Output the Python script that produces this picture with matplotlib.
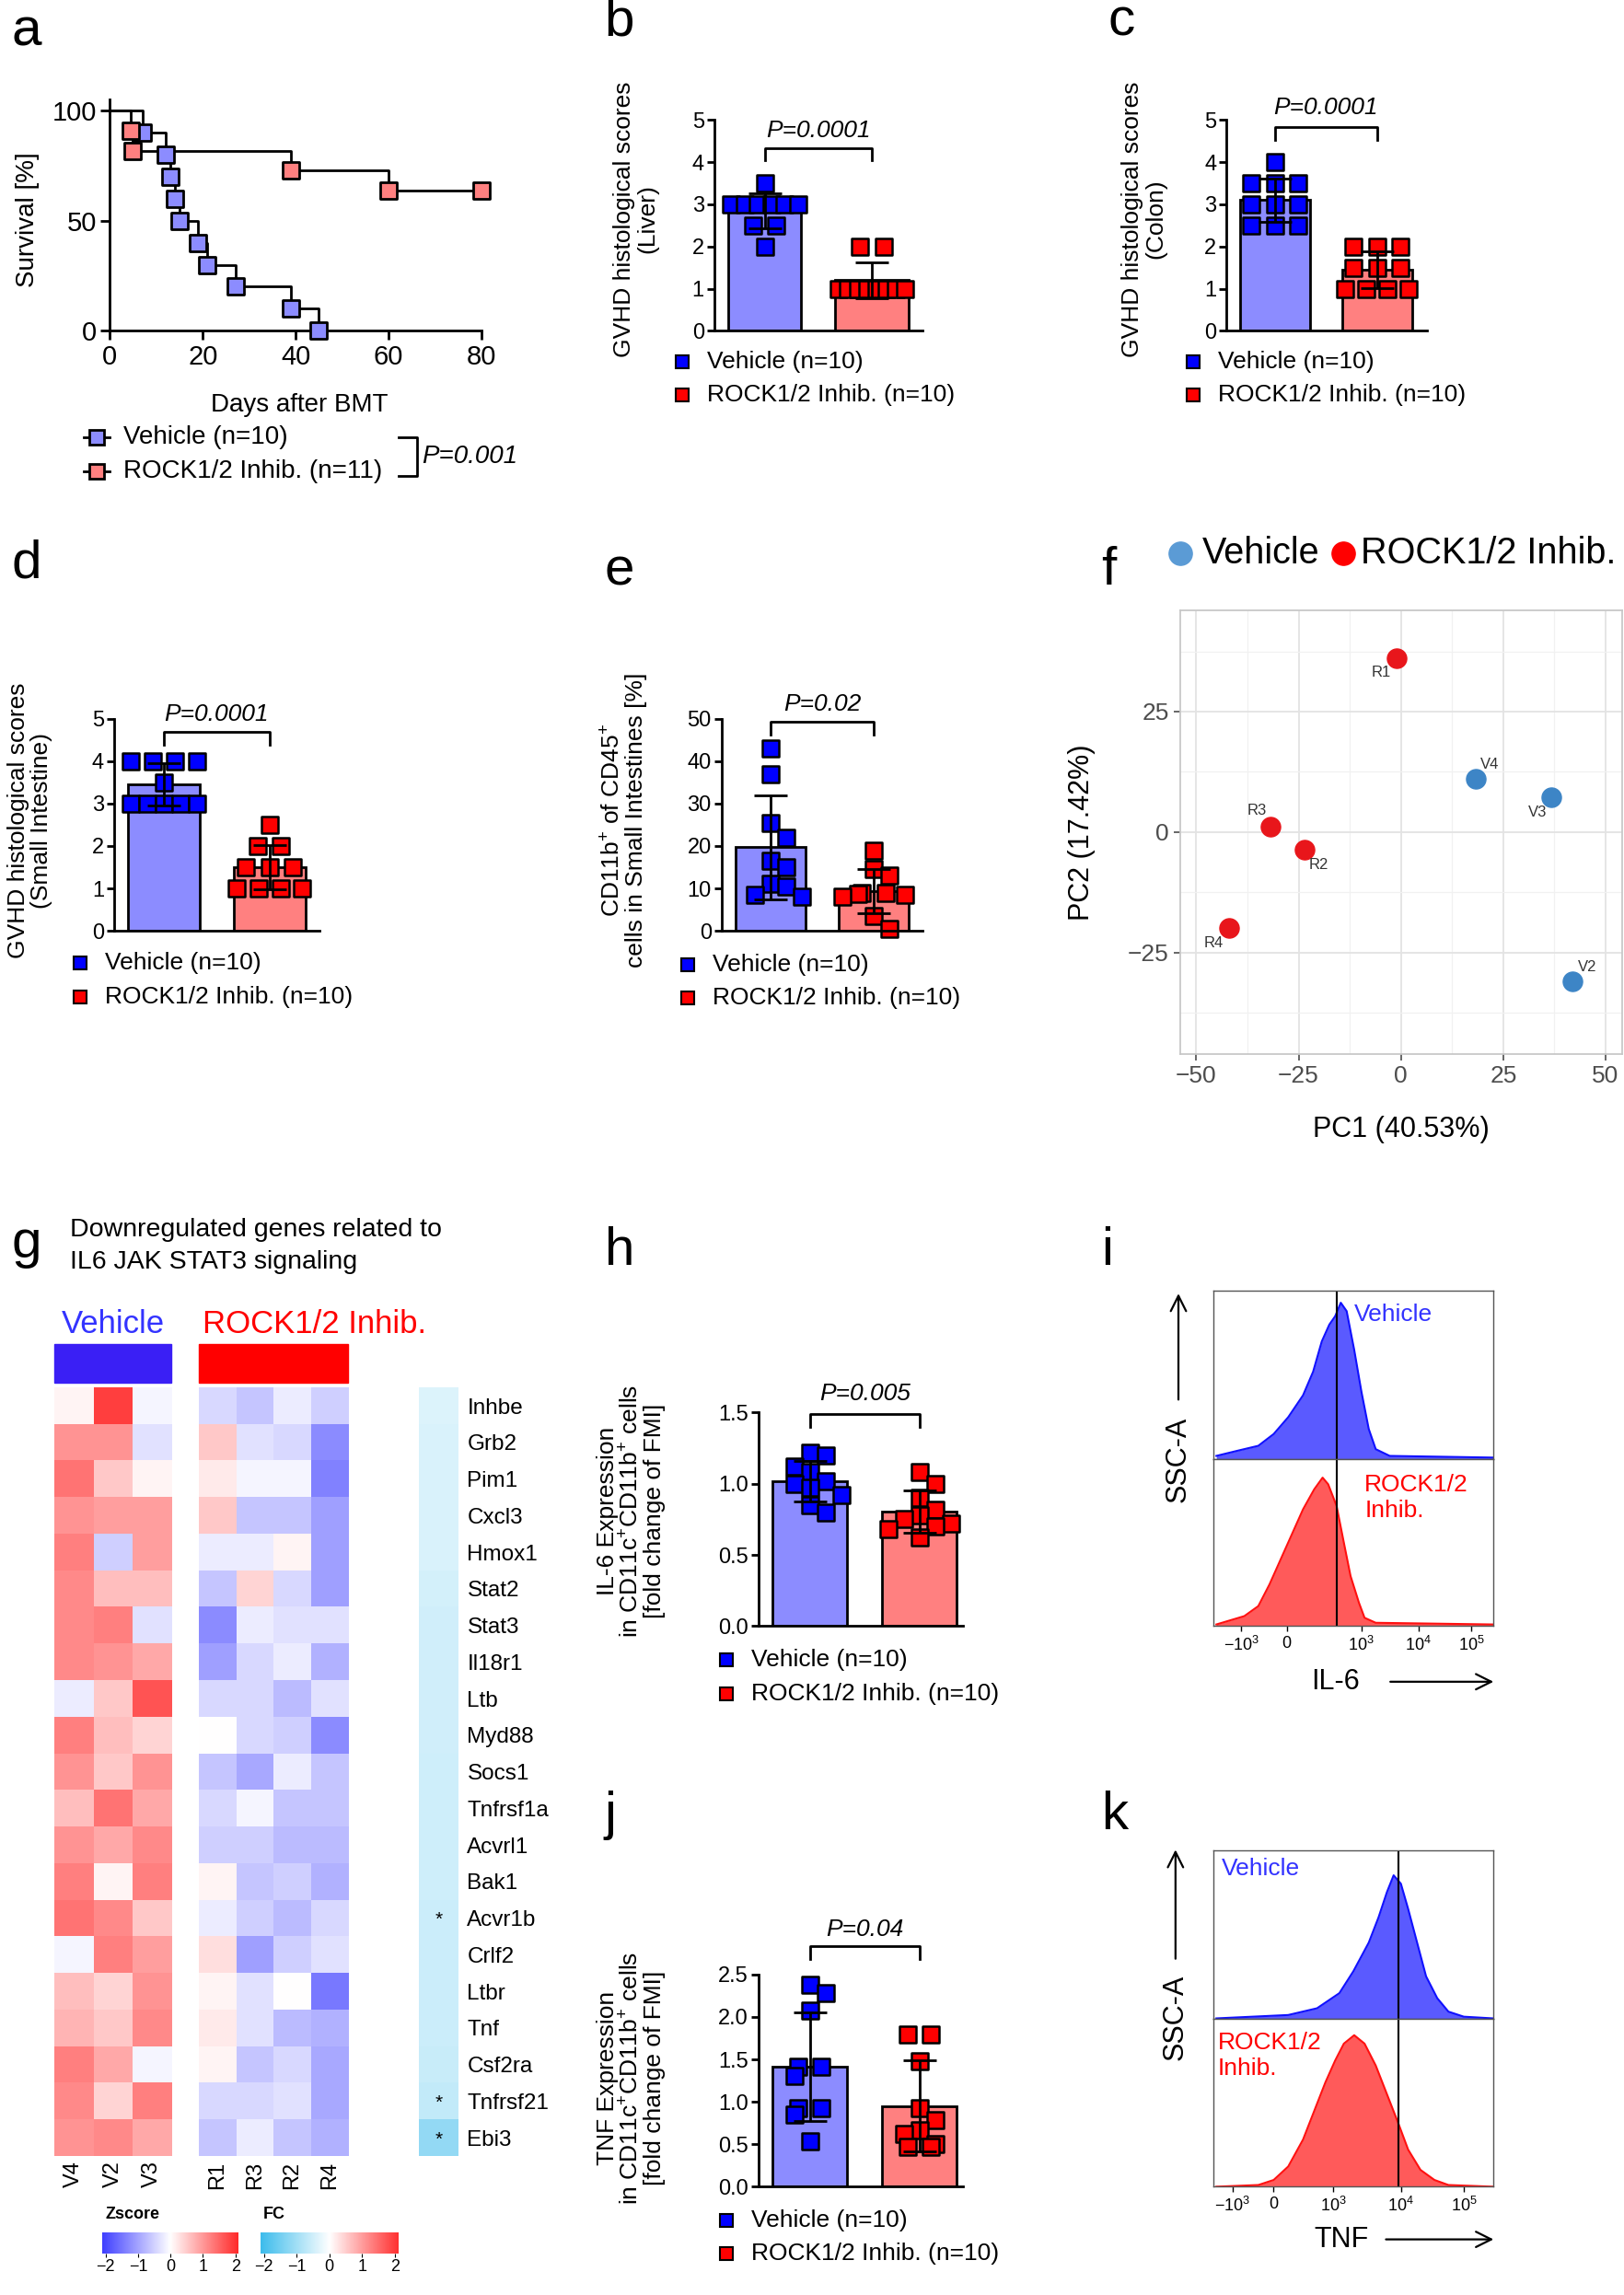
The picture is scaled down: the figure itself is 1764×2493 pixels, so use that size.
import numpy as np
import matplotlib
matplotlib.use('Agg')
import matplotlib.pyplot as plt
from matplotlib.colors import LinearSegmentedColormap

plt.rcParams['font.family'] = ['Liberation Sans', 'DejaVu Sans']
plt.rcParams['mathtext.fontset'] = 'custom'
plt.rcParams['mathtext.rm'] = 'Liberation Sans'
plt.rcParams['mathtext.it'] = 'Liberation Sans:italic'
plt.rcParams['axes.linewidth'] = 2

# ---------------- data ----------------
# a: survival
veh_surv_days = [0, 7, 12, 13, 14, 15, 19, 21, 27, 39, 45]
veh_surv_pct = [100, 90, 80, 70, 60, 50, 40, 30, 20, 10, 0]
rock_surv_days = [0, 4.5, 5, 39, 60, 80]
rock_surv_pct = [100, 90.9, 81.8, 72.7, 63.6, 63.6]

# b-e: histological scores / CD11b
liver_veh = [3.5, 3, 3, 3, 3, 3, 3, 2.5, 2.5, 2]
liver_rock = [2, 2, 1, 1, 1, 1, 1, 1, 1, 1]
colon_veh = [4, 3.5, 3.5, 3.5, 3, 3, 3, 2.5, 2.5, 2.5]
colon_rock = [2, 2, 2, 1.5, 1.5, 1.5, 1, 1, 1, 1]
si_veh = [4, 4, 4, 4, 3.5, 3, 3, 3, 3, 3]
si_rock = [2.5, 2, 2, 1.5, 1.5, 1.5, 1, 1, 1, 1]
cd11b_veh = [43, 37, 25.5, 22, 16.5, 15, 11, 10.5, 8.5, 8]
cd11b_rock = [19, 14.5, 13, 9, 9, 8.7, 8.4, 8, 3.5, 0.5]

# h, j: fold change of FMI
il6_veh = [1.22, 1.20, 1.12, 1.08, 1.02, 1.0, 0.97, 0.92, 0.85, 0.8]
il6_rock = [1.08, 1.0, 0.9, 0.82, 0.78, 0.75, 0.72, 0.70, 0.68, 0.62]
tnf_veh = [2.38, 2.28, 2.07, 1.41, 1.41, 1.31, 0.93, 0.93, 0.85, 0.53]
tnf_rock = [1.79, 1.79, 1.48, 0.93, 0.78, 0.67, 0.62, 0.5, 0.47, 0.47]

# f: PCA
pca_names = ['R1', 'R2', 'R3', 'R4', 'V2', 'V3', 'V4']
pc1 = [-1, -23.6, -31.8, -42, 41.8, 36.8, 18.2]
pc2 = [36, -3.7, 1.2, -19.8, -31, 7.3, 11]

# g: heatmap
genes = ['Inhbe', 'Grb2', 'Pim1', 'Cxcl3', 'Hmox1', 'Stat2', 'Stat3', 'Il18r1',
         'Ltb', 'Myd88', 'Socs1', 'Tnfrsf1a', 'Acvrl1', 'Bak1', 'Acvr1b',
         'Crlf2', 'Ltbr', 'Tnf', 'Csf2ra', 'Tnfrsf21', 'Ebi3']
veh_samples = ['V4', 'V2', 'V3']
rock_samples = ['R1', 'R3', 'R2', 'R4']
z_veh = [[0.1, 1.8, -0.1], [1.0, 1.0, -0.3], [1.3, 0.5, 0.1], [1.0, 0.9, 0.9],
         [1.2, -0.5, 0.9], [1.1, 0.6, 0.6], [1.1, 1.2, -0.3], [1.1, 1.0, 0.8],
         [-0.2, 0.5, 1.6], [1.2, 0.6, 0.4], [1.0, 0.5, 1.0], [0.6, 1.3, 0.8],
         [1.0, 0.8, 1.1], [1.2, 0.1, 1.2], [1.3, 1.1, 0.5], [-0.1, 1.2, 0.9],
         [0.6, 0.4, 1.0], [0.7, 0.5, 1.1], [1.2, 0.8, -0.1], [1.1, 0.4, 1.2],
         [1.0, 1.1, 0.8]]
z_rock = [[-0.4, -0.6, -0.2, -0.5], [0.5, -0.3, -0.4, -1.2], [0.2, -0.1, -0.1, -1.3],
          [0.5, -0.6, -0.6, -1.0], [-0.2, -0.2, 0.1, -1.0], [-0.6, 0.4, -0.4, -1.0],
          [-1.2, -0.2, -0.3, -0.3], [-1.0, -0.4, -0.2, -0.8], [-0.4, -0.4, -0.7, -0.3],
          [0.0, -0.4, -0.5, -1.2], [-0.6, -0.9, -0.2, -0.6], [-0.4, -0.1, -0.6, -0.6],
          [-0.5, -0.5, -0.7, -0.7], [0.1, -0.6, -0.5, -0.8], [-0.2, -0.5, -0.7, -0.4],
          [0.3, -1.0, -0.5, -0.3], [0.1, -0.3, 0.0, -1.4], [0.2, -0.3, -0.7, -0.8],
          [0.1, -0.6, -0.4, -0.9], [-0.4, -0.4, -0.3, -0.9], [-0.6, -0.2, -0.6, -0.8]]
fold_change = [-0.35, -0.38, -0.38, -0.38, -0.38, -0.45, -0.48, -0.48, -0.48, -0.48,
               -0.5, -0.5, -0.5, -0.5, -0.52, -0.52, -0.52, -0.52, -0.55, -0.62, -1.1]
significant = ['Acvr1b', 'Tnfrsf21', 'Ebi3']

# i, k: flow cytometry histograms (axis units 0-100, height as share of max)
il6_veh_x = [1, 8.4, 16, 21.5, 26.7, 32, 35.6, 38.7, 41.4, 43.5, 45.5, 47.6, 50.3, 52.9, 55.5, 58, 63, 100]
il6_veh_y = [0.02, 0.05, 0.08, 0.15, 0.25, 0.38, 0.52, 0.70, 0.80, 0.85, 0.93, 0.88, 0.65, 0.40, 0.18, 0.06, 0.02, 0.01]
il6_rock_x = [1, 3, 11, 16, 20, 24, 28, 32, 36, 39, 41, 44, 46.6, 49, 52, 54, 58, 100]
il6_rock_y = [0.01, 0.02, 0.06, 0.12, 0.25, 0.40, 0.55, 0.70, 0.82, 0.89, 0.85, 0.72, 0.50, 0.30, 0.14, 0.05, 0.02, 0.01]
tnf_veh_x = [1, 26.7, 37, 45, 50, 55.5, 59, 62, 64.4, 67, 69.6, 72.8, 76, 80, 84, 89.5, 100]
tnf_veh_y = [0.0, 0.02, 0.06, 0.15, 0.28, 0.45, 0.60, 0.75, 0.85, 0.80, 0.65, 0.45, 0.25, 0.12, 0.04, 0.01, 0.0]
tnf_rock_x = [1, 16, 21.5, 26.7, 32, 36, 40, 43.5, 46.6, 50.3, 54, 58, 62, 66, 69.6, 74, 79, 84, 100]
tnf_rock_y = [0.0, 0.01, 0.04, 0.12, 0.28, 0.45, 0.62, 0.75, 0.85, 0.90, 0.85, 0.72, 0.55, 0.38, 0.22, 0.10, 0.04, 0.01, 0.0]

VEH_BAR, ROCK_BAR = '#8c8cff', '#ff8080'
VEH_PT, ROCK_PT = '#0000ff', '#ff0000'
BAR_W = 0.68

FW, FH = 1765, 2493
fig = plt.figure(figsize=(FW / 100, FH / 100), dpi=100)


def axbox(x0, y0, x1, y1):
    return fig.add_axes([x0 / 1110, 1 - y1 / 1568, (x1 - x0) / 1110, (y1 - y0) / 1568])


def F(x, y):
    return (x / 1110, 1 - y / 1568)


def ftext(x, y, s, **kw):
    fig.text(*F(x, y), s, **kw)


def fline(xs, ys, **kw):
    pts = [F(x, y) for x, y in zip(xs, ys)]
    fig.add_artist(plt.Line2D([p[0] for p in pts], [p[1] for p in pts],
                              transform=fig.transFigure, **kw))


def swarm_x(ax, vals, center, ms_px=17):
    bb = ax.get_position()
    w_px, h_px = bb.width * FW, bb.height * FH
    x0, x1 = ax.get_xlim()
    y0, y1 = ax.get_ylim()
    bar_px = BAR_W / (x1 - x0) * w_px
    vals = np.asarray(vals, float)
    ypx = (vals - y0) / (y1 - y0) * h_px
    cands = [0] + [s * k * 0.5 for k in range(1, 30) for s in (1, -1)]
    offs = np.zeros(len(vals))
    placed = []
    for i in np.argsort(-ypx, kind='stable'):
        for c in cands:
            off = c * ms_px
            if all(abs(off - px) >= ms_px * 0.98 or abs(ypx[i] - py) >= ms_px * 0.98
                   for px, py in placed):
                break
        placed.append((off, ypx[i]))
        offs[i] = off
    for v in np.unique(vals):
        m = vals == v
        n = m.sum()
        if n > 1:
            span = min((n - 1) * 1.5 * ms_px, bar_px - 0.4 * ms_px)
            offs[m] = np.linspace(-span / 2, span / 2, n)
    return center + offs / w_px * (x1 - x0)


def bar_panel(ax, veh, rock, ylim, yticks, ylabel, lab_xy, ptxt, br_y, br_drop, txt_y,
              xlim=(-0.47, 1.47), tick_fmt='{:g}'):
    ax.set_xlim(*xlim)
    ax.set_ylim(*ylim)
    means = [np.mean(veh), np.mean(rock)]
    sds = [np.std(veh, ddof=1), np.std(rock, ddof=1)]
    ax.bar([0, 1], means, width=BAR_W, color=[VEH_BAR, ROCK_BAR], edgecolor='black',
           linewidth=2, zorder=1)
    for i, vals, col in [(0, veh, VEH_PT), (1, rock, ROCK_PT)]:
        ax.scatter(swarm_x(ax, vals, i), vals, marker='s', s=150, c=col,
                   edgecolors='black', linewidths=1.8, zorder=2, clip_on=False)
    ax.errorbar([0, 1], means, yerr=sds, fmt='none', ecolor='black', elinewidth=2,
                capsize=13, capthick=2, zorder=3)
    ax.plot([0, 0, 1, 1], [br_y - br_drop, br_y, br_y, br_y - br_drop], color='black',
            lw=2, clip_on=False)
    ax.text(0.5, txt_y, ptxt, style='italic', ha='center', va='center', fontsize=19)
    for s in ['top', 'right']:
        ax.spines[s].set_visible(False)
    ax.set_xticks([])
    ax.set_yticks(yticks)
    ax.set_yticklabels([tick_fmt.format(t) for t in yticks])
    ax.tick_params(axis='y', labelsize=17, width=2, length=6, pad=2)
    ax.set_ylabel(ylabel, fontsize=19, linespacing=1.05)
    ax.yaxis.set_label_coords(*lab_xy)


def bar_legend(x, y, dy=23):
    for k, (lab, col) in enumerate([('Vehicle (n=10)', VEH_PT), ('ROCK1/2 Inhib. (n=10)', ROCK_PT)]):
        fig.add_artist(plt.Line2D([F(x, y + k * dy)[0]], [F(x, y + k * dy)[1]], marker='s',
                                  markersize=10, markerfacecolor=col, markeredgecolor='black',
                                  markeredgewidth=1.5, transform=fig.transFigure))
        ftext(x + 17, y + k * dy, lab, fontsize=19, va='center', ha='left')


# panel letters
for lab, (x, y) in {'a': (8, 22), 'b': (413, 15), 'c': (757, 15), 'd': (8, 385),
                    'e': (413, 390), 'f': (752, 390), 'g': (8, 850), 'h': (413, 855),
                    'i': (752, 855), 'j': (413, 1240), 'k': (752, 1240)}.items():
    ftext(x, y, lab, fontsize=42, ha='left', va='center')

# ---------------- a ----------------
ax = axbox(75, 68, 329, 226)
ax.set_xlim(0, 80)
ax.set_ylim(0, 105)
for days, pct, col in [(veh_surv_days, veh_surv_pct, VEH_BAR), (rock_surv_days, rock_surv_pct, ROCK_BAR)]:
    ax.step(days, pct, where='post', color='black', lw=2, clip_on=False, zorder=2)
    ax.scatter(days[1:], pct[1:], marker='s', s=170, c=col, edgecolors='black',
               linewidths=2, zorder=3, clip_on=False)
for s in ['top', 'right']:
    ax.spines[s].set_visible(False)
ax.set_xticks([0, 20, 40, 60, 80])
ax.set_yticks([0, 50, 100])
ax.tick_params(labelsize=21, width=2, length=7)
ax.set_ylabel('Survival [%]', fontsize=20)
ax.yaxis.set_label_coords(-0.19, 0.48)
ax.set_xlabel('Days after BMT', fontsize=20)
ax.xaxis.set_label_coords(0.51, -0.27)
for k, (lab, col) in enumerate([('Vehicle (n=10)', VEH_BAR), ('ROCK1/2 Inhib. (n=11)', ROCK_BAR)]):
    y = 299 + 23 * k
    fline([57, 75], [y, y], color='black', lw=2)
    fig.add_artist(plt.Line2D([F(66, y)[0]], [F(66, y)[1]], marker='s', markersize=11,
                              markerfacecolor=col, markeredgecolor='black', markeredgewidth=2,
                              transform=fig.transFigure))
    ftext(84, y, lab, fontsize=20, va='center', ha='left')
fline([272, 285, 285, 272], [299, 299, 325, 325], color='black', lw=2)
ftext(288, 312, 'P=0.001', fontsize=20, style='italic', va='center', ha='left')

# ---------------- b, c, d, e ----------------
ax = axbox(488, 82, 630, 226)
bar_panel(ax, liver_veh, liver_rock, (0, 5), range(6), 'GVHD histological scores\n(Liver)',
          (-0.27, 0.53), 'P=0.0001', 4.34, 0.3, 4.75)
bar_legend(466, 247)

ax = axbox(838, 82, 975, 226)
bar_panel(ax, colon_veh, colon_rock, (0, 5), range(6), 'GVHD histological scores\n(Colon)',
          (-0.3, 0.53), 'P=0.0001', 4.83, 0.3, 5.3, xlim=(-0.47, 1.49))
bar_legend(815, 247)

ax = axbox(78, 491, 218, 636)
bar_panel(ax, si_veh, si_rock, (0, 5), range(6), 'GVHD histological scores\n(Small Intestine)',
          (-0.3, 0.52), 'P=0.0001', 4.69, 0.3, 5.1)
bar_legend(55, 658)

ax = axbox(493, 491, 630, 636)
bar_panel(ax, cd11b_veh, cd11b_rock, (0, 50), range(0, 51, 10),
          'CD11b$^{+}$ of CD45$^{+}$\ncells in Small Intestines [%]',
          (-0.37, 0.52), 'P=0.02', 49.3, 3, 53.4)
bar_legend(470, 659)

# ---------------- h, j ----------------
ax = axbox(518, 965, 658, 1111)
bar_panel(ax, il6_veh, il6_rock, (0, 1.5), [0, 0.5, 1.0, 1.5],
          'IL-6 Expression\nin CD11c$^{+}$CD11b$^{+}$ cells\n[fold change of FMI]',
          (-0.45, 0.54), 'P=0.005', 1.49, 0.09, 1.63, xlim=(-0.47, 1.4), tick_fmt='{:.1f}')
bar_legend(496, 1134)

ax = axbox(518, 1349, 658, 1494)
bar_panel(ax, tnf_veh, tnf_rock, (0, 2.5), [0, 0.5, 1.0, 1.5, 2.0, 2.5],
          'TNF Expression\nin CD11c$^{+}$CD11b$^{+}$ cells\n[fold change of FMI]',
          (-0.45, 0.51), 'P=0.04', 2.83, 0.15, 3.03, xlim=(-0.47, 1.4), tick_fmt='{:.1f}')
bar_legend(496, 1517)

# ---------------- f ----------------
ax = axbox(806, 417, 1108, 720)
ax.set_xlim(-54, 54)
ax.set_ylim(-46, 46)
ax.set_xticks([-50, -25, 0, 25, 50])
ax.set_xticklabels(['\u221250', '\u221225', '0', '25', '50'])
ax.set_yticks([-25, 0, 25])
ax.set_yticklabels(['\u221225', '0', '25'])
ax.set_xticks([-37.5, -12.5, 12.5, 37.5], minor=True)
ax.set_yticks([-37.5, -12.5, 12.5, 37.5], minor=True)
ax.grid(which='major', color='#e3e3e3', lw=1.3)
ax.grid(which='minor', color='#f1f1f1', lw=0.9)
ax.set_axisbelow(True)
for s in ax.spines.values():
    s.set_color('#c8c8c8')
    s.set_linewidth(1.3)
ax.tick_params(which='major', labelsize=19, colors='#4d4d4d', length=5, width=1.2)
ax.tick_params(which='minor', length=0)
offsets = {'R1': (-12, -11), 'R2': (11, -12), 'R3': (-11, 12), 'R4': (-12, -12),
           'V2': (12, 11), 'V3': (-11, -12), 'V4': (11, 11)}
for name, x, y in zip(pca_names, pc1, pc2):
    col = '#e8161b' if name.startswith('R') else '#3d85c6'
    ax.scatter(x, y, s=230, color=col, zorder=3)
    ax.annotate(name, (x, y), xytext=offsets[name], textcoords='offset points',
                fontsize=12, color='#333333', ha='center', va='center')
ax.set_xlabel('PC1 (40.53%)', fontsize=22)
ax.xaxis.set_label_coords(0.5, -0.14)
ax.set_ylabel('PC2 (17.42%)', fontsize=22)
ax.yaxis.set_label_coords(-0.19, 0.5)
for x, col, lab, tx in [(0.0, '#5b9bd5', 'Vehicle', 0.05), (0.37, '#ff0000', 'ROCK1/2 Inhib.', 0.41)]:
    ax.scatter([x], [1.129], s=330, color=col, transform=ax.transAxes, clip_on=False)
    ax.text(tx, 1.129, lab, transform=ax.transAxes, fontsize=28.5, va='center', ha='left')

# ---------------- g ----------------
ftext(48, 840, 'Downregulated genes related to', fontsize=20.5, va='center', ha='left')
ftext(48, 862, 'IL6 JAK STAT3 signaling', fontsize=20.5, va='center', ha='left')
ftext(77, 905, 'Vehicle', fontsize=25, color='#3333ff', ha='center', va='center')
ftext(215, 905, 'ROCK1/2 Inhib.', fontsize=25, color='#ff0000', ha='center', va='center')
fig.add_artist(plt.Rectangle(F(37, 945), 80 / 1110, 27 / 1568, color='#3a1ff5',
                             transform=fig.transFigure))
fig.add_artist(plt.Rectangle(F(136, 945), 102 / 1110, 27 / 1568, color='#ff0000',
                             transform=fig.transFigure))

zcmap = LinearSegmentedColormap.from_list('z', ['#3f3fff', '#ffffff', '#ff2a2a'])
fccmap = LinearSegmentedColormap.from_list('fc', ['#3cbcec', '#ffffff', '#ff3030'])

for (x0, x1), data, cols in [((37, 117), z_veh, veh_samples), ((136, 238), z_rock, rock_samples)]:
    ax = axbox(x0, 948, x1, 1473)
    ax.imshow(np.array(data), cmap=zcmap, vmin=-2, vmax=2, aspect='auto', interpolation='nearest')
    ax.set_yticks([])
    ax.set_xticks(range(len(cols)))
    ax.set_xticklabels(cols, rotation=90, fontsize=17)
    ax.tick_params(axis='x', length=0, pad=4)
    for s in ax.spines.values():
        s.set_visible(False)

ax = axbox(286, 948, 313, 1473)
ax.imshow(np.array(fold_change)[:, None], cmap=fccmap, vmin=-2, vmax=2, aspect='auto',
          interpolation='nearest')
ax.set_xticks([])
ax.yaxis.tick_right()
ax.set_yticks(range(len(genes)))
ax.set_yticklabels(genes, fontsize=17.5)
ax.tick_params(axis='y', length=0, pad=7)
for s in ax.spines.values():
    s.set_visible(False)
for g in significant:
    ax.text(0, genes.index(g) + 0.05, '*', ha='center', va='center', fontsize=15)

for (x0, x1), cmap, lab in [((70, 163), zcmap, 'Zscore'), ((178, 272), fccmap, 'FC')]:
    ax = axbox(x0, 1525, x1, 1540)
    ax.imshow(np.linspace(-2, 2, 256)[None, :], cmap=cmap, vmin=-2, vmax=2, aspect='auto',
              extent=(-2.1, 2.1, 0, 1))
    ax.set_xlim(-2.1, 2.1)
    ax.set_yticks([])
    ax.set_xticks([-2, -1, 0, 1, 2])
    ax.set_xticklabels(['\u22122', '\u22121', '0', '1', '2'], fontsize=13)
    ax.tick_params(axis='x', length=3, width=0.8, pad=1)
    for s in ax.spines.values():
        s.set_visible(False)
    ftext(x0 + 2, 1513, lab, fontsize=13, fontweight='bold', ha='left', va='center')


# ---------------- i, k ----------------
def flow_panel(y0, ymid, y1, top, bot, vline, ticks, ticklabels):
    ax_t = axbox(829, y0, 1020, ymid)
    ax_b = axbox(829, ymid, 1020, y1)
    for ax, (xs, ys), fc, ec in [(ax_t, top, '#5a5aff', '#1010ff'), (ax_b, bot, '#ff5a5a', '#ff1010')]:
        ax.fill_between(xs, ys, color=fc, lw=0)
        ax.plot(xs, ys, color=ec, lw=1.5)
        ax.axvline(vline, color='black', lw=1.5)
        ax.set_xlim(0, 100)
        ax.set_ylim(0, 1)
        ax.set_yticks([])
        for s in ax.spines.values():
            s.set_color('#555555')
            s.set_linewidth(1)
    ax_t.set_xticks([])
    ax_b.set_xticks(ticks)
    ax_b.set_xticklabels(ticklabels, fontsize=13)
    ax_b.tick_params(axis='x', length=4, width=1)
    return ax_t, ax_b


def flow_arrows(x_ssc, y_text, y_arrow0, y_arrow1, lab, x_lab, y_lab, x_arr0, x_arr1):
    ftext(x_ssc, y_text, 'SSC-A', fontsize=22, rotation=90, ha='center', va='center')
    fig.add_artist(matplotlib.patches.FancyArrowPatch(F(x_ssc, y_arrow0), F(x_ssc, y_arrow1),
                   arrowstyle='->', mutation_scale=30, lw=1.6, transform=fig.transFigure))
    ftext(x_lab, y_lab, lab, fontsize=22, ha='center', va='center')
    fig.add_artist(matplotlib.patches.FancyArrowPatch(F(x_arr0, y_lab), F(x_arr1, y_lab),
                   arrowstyle='->', mutation_scale=30, lw=1.6, transform=fig.transFigure))


flow_labels = ['$-10^3$', '0', '$10^3$', '$10^4$', '$10^5$']
ax_t, ax_b = flow_panel(882, 997, 1111, (il6_veh_x, il6_veh_y), (il6_rock_x, il6_rock_y), 44,
                        [9.9, 26.2, 52.9, 73.3, 92.1], flow_labels)
ax_t.text(0.644, 0.86, 'Vehicle', transform=ax_t.transAxes, fontsize=19, color='#3333ff',
          ha='center', va='center')
ax_b.text(0.54, 0.77, 'ROCK1/2\nInhib.', transform=ax_b.transAxes, fontsize=19, color='#ff0000',
          ha='left', va='center')
flow_arrows(805, 997, 958, 882, 'IL-6', 912, 1149, 948, 1022)

ax_t, ax_b = flow_panel(1264, 1379, 1494, (tnf_veh_x, tnf_veh_y), (tnf_rock_x, tnf_rock_y), 66,
                        [6.8, 21.5, 42.9, 67, 89.5], flow_labels)
ax_t.text(0.03, 0.89, 'Vehicle', transform=ax_t.transAxes, fontsize=19, color='#3333ff',
          ha='left', va='center')
ax_b.text(0.016, 0.78, 'ROCK1/2\nInhib.', transform=ax_b.transAxes, fontsize=19, color='#ff0000',
          ha='left', va='center')
flow_arrows(803, 1378, 1340, 1262, 'TNF', 916, 1530, 945, 1022)

fig.savefig('out.png', dpi=100)
